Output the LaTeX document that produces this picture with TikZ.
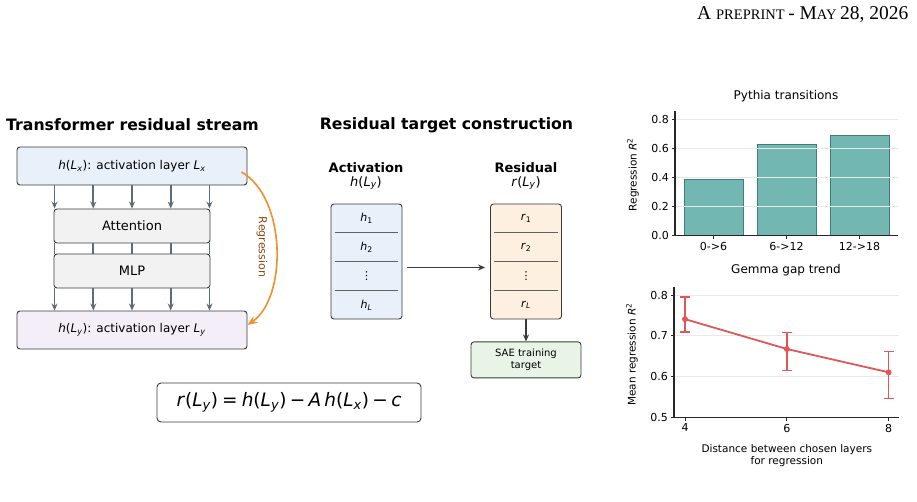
\documentclass[tikz,border=0pt]{standalone}
\usepackage{fontspec}
\setmainfont{DejaVu Sans}
\newfontfamily\headserif{Liberation Serif}
\usepackage{xcolor}
\usetikzlibrary{arrows.meta,positioning,calc}
\definecolor{boxline}{HTML}{3A3A3A}
\definecolor{lxblue}{HTML}{E8F0FA}
\definecolor{blkgray}{HTML}{F2F2F2}
\definecolor{lypurple}{HTML}{F4EEF8}
\definecolor{resorange}{HTML}{FEF0E0}
\definecolor{saegreen}{HTML}{E8F4E6}
\definecolor{streamgray}{HTML}{5F6B75}
\definecolor{regorange}{HTML}{F28E2B}
\definecolor{regbrown}{HTML}{8B4A12}
\definecolor{barteal}{HTML}{72B7B2}
\definecolor{baredge}{HTML}{3F7F7A}
\definecolor{trendred}{HTML}{E15759}
\definecolor{gridgray}{HTML}{E8E8E8}
\newcommand{\fs}[2]{\fontsize{#1}{#2}\selectfont}
\newcommand{\Ls}[1]{\textit{L}\textsubscript{\textit{#1}}}

\begin{document}
\begin{tikzpicture}[x=1pt,y=-1pt,
    lay/.style={draw=boxline, line width=0.9pt, rounded corners=3pt,
                minimum width=230pt, minimum height=38pt, inner sep=0pt,
                font=\fs{12}{14}},
    blk/.style={draw=boxline, line width=0.9pt, fill=blkgray, rounded corners=3pt,
                minimum width=156pt, minimum height=34pt, inner sep=0pt,
                font=\fs{13}{15}},
    vec/.style={draw=boxline, line width=0.9pt, rounded corners=3pt,
                minimum width=71pt, minimum height=115pt, inner sep=0pt},
    cell/.style={font=\fs{11}{13}, inner sep=0.5pt},
    sep/.style={draw=boxline!80, line width=0.7pt},
    ttl/.style={font=\bfseries\fs{15.7}{18}},
    hdr/.style={align=center, font=\fs{13}{15}},
    strm/.style={draw=streamgray, line width=1.8pt},
    arr/.style={-{Stealth[length=7pt,width=6pt]}, line width=1.2pt, draw=boxline},
    tick/.style={font=\fs{11}{13}},
    axl/.style={font=\fs{10.5}{12.5}, align=center},
    spine/.style={line width=1.1pt, draw=black!85},
    grid/.style={draw=gridgray, line width=0.9pt},
    bar/.style={fill=barteal, draw=baredge, line width=0.8pt},
    trend/.style={draw=trendred, line width=1.8pt}
  ]
  \useasboundingbox (0,0) rectangle (917,502);

  \node[anchor=base east] (head) at (912,20)
    {\headserif\fs{19.5}{22}A \fs{14.5}{16}PREPRINT \fs{19.5}{22}- M\fs{14.5}{16}AY \fs{19.5}{22}28, 2026};

  % transformer residual stream
  \node[ttl] (ttlA) at (132.5,125) {Transformer residual stream};
  \node[lay, fill=lxblue] (top) at (132,166) {\textit{h}(\Ls{x}): activation layer \Ls{x}};
  \node[blk] (att) at (132,226) {Attention};
  \node[blk] (mlp) at (132,271) {MLP};
  \node[lay, fill=lypurple] (bot) at (132,330) {\textit{h}(\Ls{y}): activation layer \Ls{y}};
  \foreach \f [count=\i] in {0,0.25,0.5,0.75,1}{
    \coordinate (c\i) at ($(att.north west)!\f!(att.north east)+(1,0)-(2*\f,0)$);
    \draw[strm, -{Stealth[length=7pt,width=6pt]}] (c\i |- top.south) -- (c\i);
    \draw[strm] (c\i |- att.south) -- (c\i |- mlp.north);
    \draw[strm, -{Stealth[length=7pt,width=6pt]}] (c\i |- mlp.south) -- (c\i |- bot.north);
  }
  \draw[draw=regorange, line width=1.6pt, -{Stealth[length=10pt,width=8pt]}]
    ($(top.east)+(-6,6)$) .. controls (287,198) and (287,298) .. ($(bot.east)+(0,-5)$);
  \node[rotate=-90, text=regbrown, font=\fs{11}{13}] (reglbl) at (262,247) {Regression};

  % residual target construction
  \node[ttl] (ttlB) at (446.5,125) {Residual target construction};
  \node[hdr] (acthd) at (366,176) {\textbf{Activation}\\[-1pt]\textit{h}(\Ls{y})};
  \node[hdr] (reshd) at (526,176) {\textbf{Residual}\\[-1pt]\textit{r}(\Ls{y})};
  \node[vec, fill=lxblue] (act) at (366.5,261.5) {};
  \node[vec, fill=resorange] (res) at (526,261.5) {};
  \foreach \b/\s in {act/h, res/r}{
    \foreach \f in {0.25,0.5,0.75}
      \draw[sep] ($(\b.north west)!\f!(\b.south west)+(4,0)$) -- ($(\b.north east)!\f!(\b.south east)+(-4,0)$);
    \node[cell] (\b1) at ($(\b.north)!0.125!(\b.south)$) {\textit{\s}\textsubscript{1}};
    \node[cell] (\b2) at ($(\b.north)!0.375!(\b.south)$) {\textit{\s}\textsubscript{2}};
    \node[cell] (\b3) at ($(\b.north)!0.625!(\b.south)$) {⋮};
    \node[cell] (\b4) at ($(\b.north)!0.875!(\b.south)$) {\textit{\s}\textsubscript{\textit{L}}};
  }
  \draw[arr] ([shift={(5pt,-6pt)}]act.east) -- ([shift={(-5pt,-6pt)}]res.west);
  \node[draw=boxline, line width=0.9pt, fill=saegreen, rounded corners=3pt,
        minimum width=110pt, minimum height=36pt, inner sep=0pt, align=center,
        font=\fs{10}{12}, below=22pt of res] (sae) {SAE training\\target};
  \draw[arr] (res) -- (sae);

  \node[draw=boxline, line width=0.9pt, fill=white, rounded corners=4pt,
        minimum width=264pt, minimum height=39pt, inner sep=0pt, font=\fs{18.5}{22}] (eq) at (289,402.5)
    {\textit{r}(\Ls{y})\hspace{0.22em}=\hspace{0.22em}\textit{h}(\Ls{y})\hspace{0.18em}−\hspace{0.18em}\textit{A}\,\textit{h}(\Ls{x})\hspace{0.18em}−\hspace{0.18em}\textit{c}};

  % pythia bars
  \node[font=\fs{12}{14}] (ttlC) at (786,96) {Pythia transitions};
  \begin{scope}[shift={(675,235.7)}, x=1pt, y=145.5pt]
    \foreach \xa/\v in {9/0.385, 82/0.628, 155/0.692}
      \draw[bar] (\xa,0) rectangle ++(59,\v);
    \foreach \t in {0.2,0.4,0.6,0.8}
      \draw[grid] (0.6,\t) -- (223,\t);
    \draw[spine] (0,0.857) -- (0,0) -- (223,0);
    \foreach \t [count=\i] in {0.0,0.2,0.4,0.6,0.8}{
      \draw[spine, line width=0.9pt] (0,\t) -- ++(-3.5pt,0pt);
      \node[tick, anchor=east, inner sep=1pt] (pyt\i) at ([xshift=-5pt]0,\t) {\t};
    }
    \foreach \c/\l [count=\i] in {38.5/0->6, 111.5/6->12, 184.5/12->18}{
      \draw[spine, line width=0.9pt] (\c,0) -- ++(0pt,-3.5pt);
      \node[tick, anchor=north, inner sep=1pt] (pyx\i) at ([yshift=-5pt]\c,0) {\l};
    }
    \node[axl, rotate=90] (pyyl) at (-42,0.42) {Regression \textit{R}\textsuperscript{2}};
  \end{scope}

  % gemma trend
  \node[font=\fs{12}{14}] (ttlD) at (786,270) {Gemma gap trend};
  \begin{scope}[shift={(481.4,622.2)}, x=50.9pt, y=409pt]
    \foreach \t in {0.6,0.7,0.8}
      \draw[grid] (3.8,\t) -- (8.197,\t);
    \draw[spine] (3.784,0.82) -- (3.784,0.5) -- (8.197,0.5);
    \foreach \t [count=\i] in {0.5,0.6,0.7,0.8}{
      \draw[spine, line width=0.9pt] (3.784,\t) -- ++(-3.5pt,0pt);
      \node[tick, anchor=east, inner sep=1pt] (gmt\i) at ([xshift=-5pt]3.784,\t) {\t};
    }
    \foreach \d [count=\i] in {4,6,8}{
      \draw[spine, line width=0.9pt] (\d,0.5) -- ++(0pt,-3.5pt);
      \node[tick, anchor=north, inner sep=1pt] (gmx\i) at ([yshift=-5pt]\d,0.5) {\d};
    }
    \draw[trend] (4,0.741) -- (6,0.668) -- (8,0.611);
    \foreach \d/\m/\lo/\hi in {4/0.741/0.710/0.795, 6/0.668/0.615/0.708, 8/0.611/0.547/0.662}{
      \draw[trend, line width=1.6pt] (\d,\lo) -- (\d,\hi);
      \draw[trend, line width=1.6pt] ([xshift=-5pt]\d,\lo) -- ([xshift=5pt]\d,\lo);
      \draw[trend, line width=1.6pt] ([xshift=-5pt]\d,\hi) -- ([xshift=5pt]\d,\hi);
      \fill[trendred] (\d,\m) circle[radius=3pt];
    }
    \node[axl, rotate=90] (gmyl) at (2.96,0.654) {Mean regression \textit{R}\textsuperscript{2}};
    \node[axl, anchor=north] (gmxl) at (6.0,0.5) [yshift=-23pt] {Distance between chosen layers\\for regression};
  \end{scope}
\end{tikzpicture}
\end{document}
